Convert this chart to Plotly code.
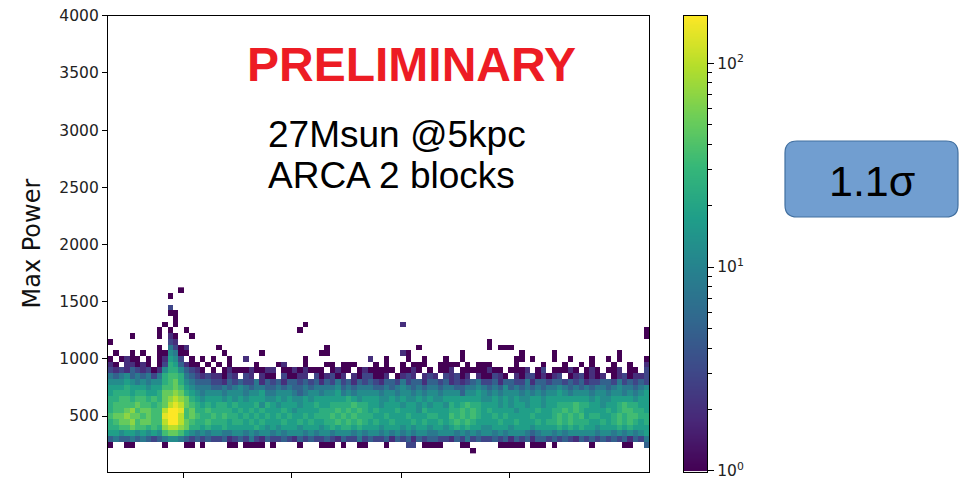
import numpy as np
import plotly.graph_objects as go

# ---- histogram binning -------------------------------------------------
POWER_BIN_LOW = 175          # lower edge of the first Max Power bin
POWER_BIN_WIDTH = 50         # Max Power bin width
N_TIME_BINS = 100            # number of bins along the horizontal axis
X_TICKS = [13.9, 34.0, 54.2, 74.2]
Y_TICKS = [500, 1000, 1500, 2000, 2500, 3000, 3500, 4000]
Y_RANGE = [15, 4000]

# cell codes -> entries per bin
LEVEL_COUNTS = {'.': 0, '1': 1, '2': 2, '3': 3, '4': 5, '5': 8, '6': 12, '7': 18,
                '8': 25, '9': 35, 'a': 50, 'b': 70, 'c': 100, 'd': 140, 'e': 171}

# one string per Max Power bin, lowest bin first; 100 time bins per row
COUNT_ROWS = [
    ".......... .......... .......... .......... .......... .......... .......1.. .......... .......... ..........",
    "1..11..... 1...11.1.. ..11.1111. 1....1...1 11.1..11.. .1...33.11 11...11... ..11111.11 1.1......1 .....11..4",
    "4544545434 5665434343 3423435324 3343243433 4324335343 3424342434 4332435343 3434243424 4343432434 3434342435",
    "7767767676 9aa9765656 6556656566 5656665656 6566656566 5656565665 5666565656 6565666545 6656566666 5665656567",
    "8899a99898 bccba88787 7877777876 7677767776 7878878777 6777676776 7767878776 6777677767 7778787877 6777878777",
    "89aab9aa99 ceeca98898 8878878787 7787787877 8898989878 7787778787 7878989877 7787787778 7889898887 7878989878",
    "9aabaa9a99 deec9a9889 8988787878 7878778788 8989898887 7877787778 8779898987 7878777787 7789898978 8778989988",
    "899ab9aa99 ceed9a8898 8887878787 7787677778 8898989878 7778777687 7778898987 8777767778 7788989877 7787899887",
    "89999a9989 acdca98787 8878777868 7677767787 7888898877 6777677676 7768789887 7767677677 6778889887 7677898877",
    "8899899898 abcba87677 7676767776 6767667677 7777876777 6676766767 6677777776 6767676677 6777777776 7667777677",
    "7888788778 aaba876566 6566656675 5666545665 6675656666 5665665656 6566646676 5656665656 5667656665 6656656567",
    "7778777677 99a9765554 4545654554 4545445455 5564545554 4545654545 5455445565 4546454545 4556545454 5545655456",
    "6667656566 89a8654443 3243433524 3424434342 4353424343 2443534424 4342323453 3424433524 4344343423 3443534343",
    "5456454535 8998543232 2132.32.21 1.31122.31 2312.21331 12.1232.23 2.32312.21 1321.21331 2123.12312 12.1231223",
    "3232432312 68864321.1 .121112112 2.11212111 .1211.1211 111.1121.1 .112.11111 211.1112.1 3.11121.12 1.112.11.3",
    "21.22121.1 3874211.1. 1.1....1.. .12...1... 11.111...1 .1..1.111. .1111.1.11 1....1.... 1...1..1.1 ...1..1..2",
    "1.1211.1.1 2763.1.1.1 ..1..2.... ......1... ........2. .1...1..1. ..1..1.... .....11.1. ..1..1...1 ..1.1....1",
    ".1..1.1..1 16511..... .1......1. .........1 1......... ....21.... .....1.... ......1... ..1....... ....1.....",
    ".........1 .5312..... 1......... .......... 1......... .......1.. .......... 1.111..... .......... ..........",
    "1......... .32....... .......... .......... .......... .......... .......... 1......... .......... ..........",
    "....1....1 .21..1.... .......... .......... .......... .......... .......... .......... .......... .........1",
    ".........1 .1..1..... .......... .....1.... .......... .......... .......... .......... .......... .........1",
    ".......... 1.1....... .......... ......1... .......... ....2..... .......... .......... .......... ..........",
    ".......... ..1....... .......... .......... .......... .......... .......... .......... .......... ..........",
    ".......... .11....... .......... .......... .......... .......... .......... .......... .......... ..........",
    ".......... .3........ .......... .......... .......... .......... .......... .......... .......... ..........",
    ".......... .......... .......... .......... .......... .......... .......... .......... .......... ..........",
    ".......... .1........ .......... .......... .......... .......... .......... .......... .......... ..........",
    ".......... ...1...... .......... .......... .......... .......... .......... .......... .......... ..........",
]

TITLE_TEXT = "PRELIMINARY"
INFO_LINES = ["27Msun @5kpc", "ARCA 2 blocks"]
SIGNIFICANCE = "1.1σ"
Y_LABEL = "Max Power"

# ---- build the count matrix -------------------------------------------
rows = []
for i, r in enumerate(COUNT_ROWS):
    cells = r.replace(" ", "")
    assert len(cells) == N_TIME_BINS, (i, len(cells))
    rows.append([LEVEL_COUNTS[ch] for ch in cells])
counts = np.array(rows, dtype=float)

x_centers = np.arange(N_TIME_BINS) + 0.5
y_centers = POWER_BIN_LOW + POWER_BIN_WIDTH * (np.arange(len(COUNT_ROWS)) + 0.5)
z_list = [[float(np.log10(v)) if v > 0 else None for v in row] for row in counts]

zmin = 0.0
zmax = float(np.log10(counts.max()))

# ---- page geometry (pixels) -------------------------------------------
W, H = 968, 479
def px(x):
    return x / W
def py(y):
    return 1 - y / H

PLOT_L, PLOT_R, PLOT_T, PLOT_B = 108, 649, 15.7, 471.5
CB_L, CB_R = 684, 707

FONT = "DejaVu Sans"
TICK_COLOR = "#222222"

fig = go.Figure()

fig.add_trace(go.Heatmap(
    x=x_centers, y=y_centers, z=z_list,
    colorscale="Viridis", zmin=zmin, zmax=zmax,
    showscale=False, hoverongaps=False,
    xaxis="x", yaxis="y",
))

# colour bar drawn as its own narrow log-scaled panel
levels = np.linspace(zmin, zmax, 400)
fig.add_trace(go.Heatmap(
    x=[0], y=10 ** levels, z=[[float(v)] for v in levels],
    colorscale="Viridis", zmin=zmin, zmax=zmax,
    showscale=False, hoverinfo="skip",
    xaxis="x2", yaxis="y2",
))

decades = [1, 10, 100]
minor_vals = [m * d for d in (1, 10) for m in range(2, 10)]

axis_line = dict(showline=True, linecolor="black", linewidth=1.3, mirror=True,
                 showgrid=False, zeroline=False)

fig.update_layout(
    width=W, height=H,
    margin=dict(l=0, r=0, t=0, b=0),
    template="none",
    paper_bgcolor="white", plot_bgcolor="white",
    showlegend=False,
    xaxis=dict(domain=[px(PLOT_L), px(PLOT_R)], range=[0, N_TIME_BINS],
               tickvals=X_TICKS, ticks="outside", ticklen=5, tickwidth=1.3,
               tickcolor="black", showticklabels=False, anchor="y", **axis_line),
    yaxis=dict(domain=[py(PLOT_B), py(PLOT_T)], range=Y_RANGE,
               tickvals=Y_TICKS, ticks="outside", ticklen=5, tickwidth=1.3,
               tickcolor="black", anchor="x",
               tickfont=dict(family=FONT, size=15.5, color=TICK_COLOR), **axis_line),
    xaxis2=dict(domain=[px(CB_L), px(CB_R)], range=[-0.5, 0.5], anchor="y2",
                showticklabels=False, ticks="", **axis_line),
    yaxis2=dict(domain=[py(PLOT_B), py(PLOT_T)], type="log", range=[zmin - 0.003, zmax],
                anchor="x2", side="right", ticklabeloverflow="allow",
                tickvals=decades,
                ticktext=["10<sup>0</sup>", "10<sup>1</sup>", "10<sup>2</sup>"],
                ticks="outside", ticklen=6, tickwidth=1.2, tickcolor="black",
                minor=dict(tickvals=minor_vals, ticks="outside", ticklen=4,
                           tickwidth=1, tickcolor="black"),
                tickfont=dict(family=FONT, size=15.5, color=TICK_COLOR), **axis_line),
)

annotations = [
    dict(text=Y_LABEL, x=px(31), y=py(243.5), xref="paper", yref="paper",
         textangle=-90, showarrow=False, xanchor="center", yanchor="middle",
         font=dict(family=FONT, size=24, color="#111111")),
    dict(text=f"<b>{TITLE_TEXT}</b>", x=px(411.5), y=py(64), xref="paper", yref="paper",
         showarrow=False, xanchor="center", yanchor="middle",
         font=dict(family="Liberation Sans", size=48, color="#ed1c24")),
    dict(text=INFO_LINES[0], x=px(266), y=py(135), xref="paper", yref="paper",
         showarrow=False, xanchor="left", yanchor="middle",
         font=dict(family="Liberation Sans", size=37, color="black")),
    dict(text=INFO_LINES[1], x=px(266), y=py(176), xref="paper", yref="paper",
         showarrow=False, xanchor="left", yanchor="middle",
         font=dict(family="Liberation Sans", size=37, color="black")),
    dict(text=SIGNIFICANCE, x=px(871.5), y=py(181), xref="paper", yref="paper",
         showarrow=False, xanchor="center", yanchor="middle",
         font=dict(family="Liberation Sans", size=43, color="black")),
]
fig.update_layout(annotations=annotations)

# rounded box behind the significance label
bx0, bx1, by0, by1, r = 785, 958, 141, 217, 12
rx, ry = r / W, r / H
X0, X1, YT, YB = px(bx0), px(bx1), py(by0), py(by1)
path = (f"M {X0+rx},{YT} L {X1-rx},{YT} Q {X1},{YT} {X1},{YT-ry} "
        f"L {X1},{YB+ry} Q {X1},{YB} {X1-rx},{YB} "
        f"L {X0+rx},{YB} Q {X0},{YB} {X0},{YB+ry} "
        f"L {X0},{YT-ry} Q {X0},{YT} {X0+rx},{YT} Z")
fig.add_shape(type="path", path=path, xref="paper", yref="paper",
              fillcolor="rgb(113,158,208)", line=dict(color="rgb(66,112,160)", width=1.2),
              layer="below")

fig.write_html("out.html")
